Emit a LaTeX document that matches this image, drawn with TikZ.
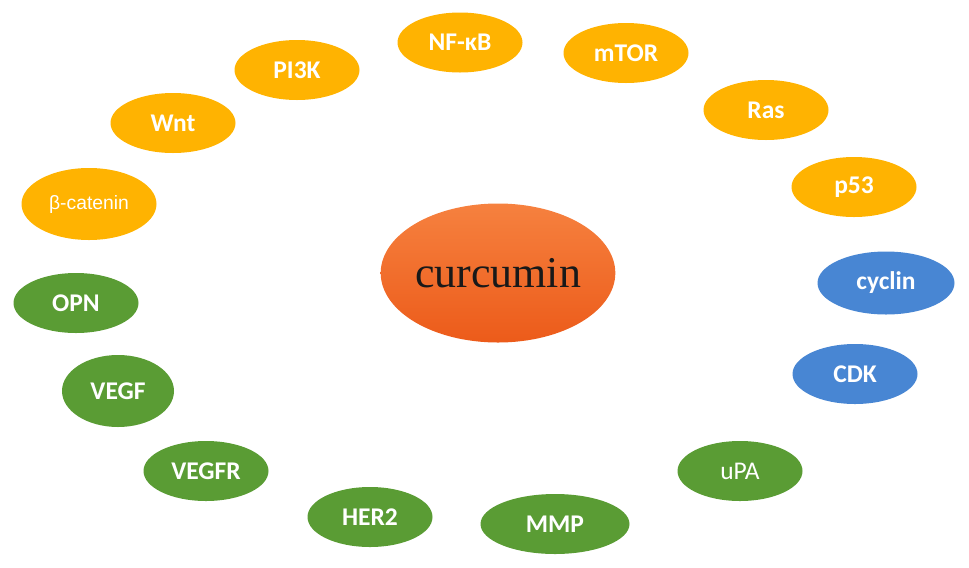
\documentclass[tikz,border=0pt]{standalone}
\usepackage{fontspec}
\setsansfont{Carlito}
\newfontfamily\arialfont{Liberation Sans}
\newfontfamily\timesfont{Liberation Serif}
\usepackage{tikz}
\usetikzlibrary{shapes.geometric, positioning}
\definecolor{Amber}     {HTML}{FFB301}
\definecolor{LeafGreen} {HTML}{5A9C34}
\definecolor{SkyBlue}   {HTML}{4886D3}
\definecolor{OrangeTop} {HTML}{F6813F}
\definecolor{OrangeBot} {HTML}{EC5B1A}
\begin{document}
\begin{tikzpicture}[
  mol/.style     = {ellipse, inner sep=0pt, minimum width=2.5cm, minimum height=1.2cm,
                    text=white, font=\sffamily\bfseries\fontsize{14.5}{16}\selectfont},
  pathway/.style = {mol, fill=Amber},
  invasion/.style= {mol, fill=LeafGreen},
  cycle/.style   = {mol, fill=SkyBlue},
  drug/.style    = {ellipse, inner sep=0pt, minimum width=4.6cm, minimum height=2.78cm,
                    top color=OrangeTop, bottom color=OrangeBot, text=black!90,
                    font=\timesfont\fontsize{25}{28}\selectfont},
]
\useasboundingbox (0,0) rectangle (19.38,-11.34);
% centre
\node[drug] (cur) at (9.96,-5.46) {curcumin};
% signalling ring
\node[pathway, minimum width=2.7cm, minimum height=1.44cm,
      font=\arialfont\fontsize{11}{13}\selectfont] (bcat) at (1.78,-4.08) {β-catenin};
\node[pathway] (wnt)  at (3.46,-2.46) {Wnt};
\node[pathway] (pi3k) at (5.94,-1.40) {PI3K};
\node[pathway] (nfkb) at (9.20,-0.85) {NF-κB};
\node[pathway] (mtor) at (12.52,-1.06) {mTOR};
\node[pathway] (ras)  at (15.32,-2.20) {Ras};
\node[pathway] (p53)  at (17.08,-3.74) {p53};
% cell cycle
\node[cycle, minimum width=2.74cm, minimum height=1.26cm] (cyc) at (17.72,-5.66) {cyclin};
\node[cycle] (cdk) at (17.10,-7.48) {CDK};
% invasion / angiogenesis
\node[invasion, font=\sffamily\fontsize{14.5}{16}\selectfont] (upa) at (14.80,-9.42) {uPA};
\node[invasion, minimum width=2.98cm] (mmp)  at (11.10,-10.48) {MMP};
\node[invasion] (her2) at (7.40,-10.34) {HER2};
\node[invasion] (vegfr) at (4.12,-9.42) {VEGFR};
\node[invasion, minimum width=2.24cm, minimum height=1.44cm] (vegf) at (2.36,-7.82) {VEGF};
\node[invasion] (opn)  at (1.52,-6.06) {OPN};
\end{tikzpicture}
\end{document}
